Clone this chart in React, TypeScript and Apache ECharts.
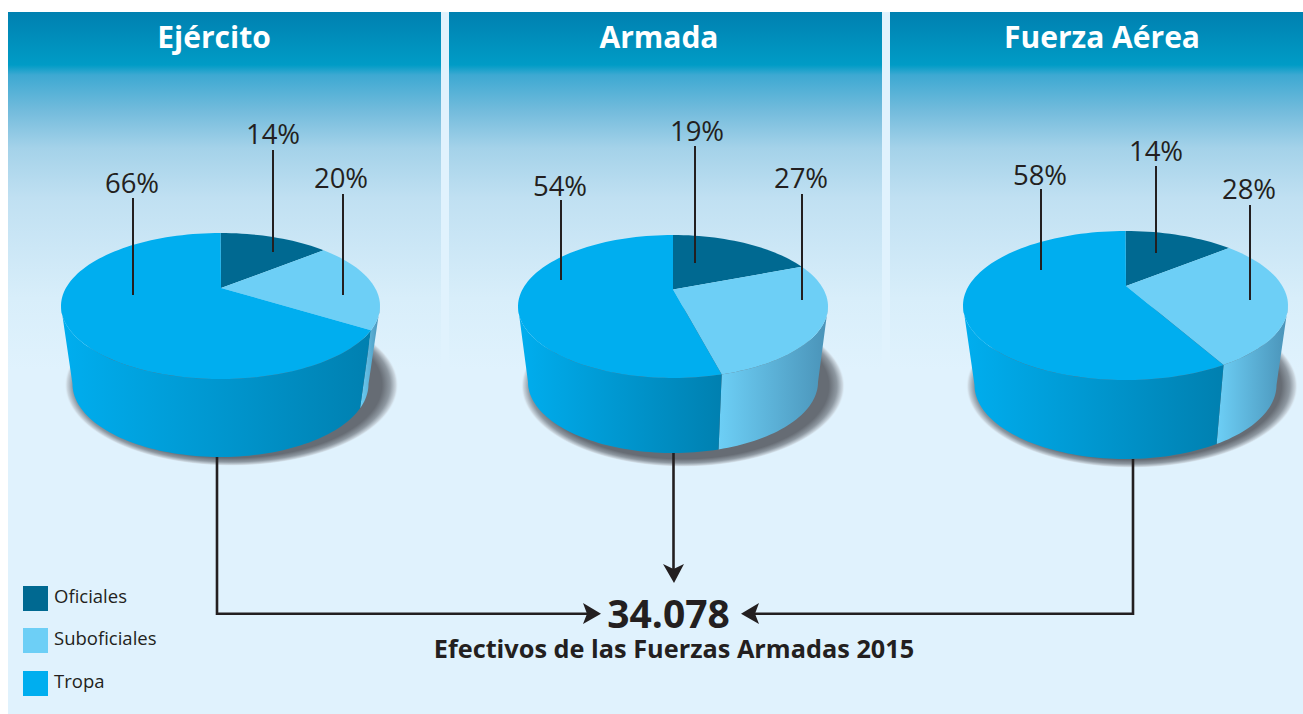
import React, { useEffect, useRef } from "react";
import * as echarts from "echarts";

// ---------- data ----------
const forces = ["Ejército", "Armada", "Fuerza Aérea"];
const categories = ["Oficiales", "Suboficiales", "Tropa"];
const oficiales = [14, 19, 14];
const suboficiales = [20, 27, 28];
const tropa = [66, 54, 58];
const totalLabel = "34.078";
const footerLabel = "Efectivos de las Fuerzas Armadas 2015";

// ---------- layout ----------
const FONT = '"Open Sans", "Noto Sans", sans-serif';
const INK = "#231f20";
const BG = "#e0f2fd";
const colors = ["#006991", "#6dcff6", "#00aeef"];
const wallEnd = ["#004a68", "#4a93b8", "#0080b0"];

const pies = [
  { cx: 220.5, rx: 159.5, cy: 306, ry: 73, ax: 221, ay: 288, rxb: 148, cyb: 384, ryb: 73, sx: 231.5, sy: 385, srx: 167, sry: 81 },
  { cx: 673, rx: 155, cy: 306.5, ry: 71.5, ax: 673, ay: 289.5, rxb: 145, cyb: 382, ryb: 71, sx: 683, sy: 386, srx: 162, sry: 81 },
  { cx: 1125.5, rx: 162.5, cy: 305.5, ry: 74.5, ax: 1126, ay: 286, rxb: 151, cyb: 385, ryb: 74, sx: 1132, sy: 386, srx: 166, sry: 82 },
];
// per force, per category: label centre and leader line
const leaders = [
  [
    { lx: 273, ly: 133, x: 273, y0: 150, y1: 252 },
    { lx: 341, ly: 177, x: 343, y0: 194, y1: 295 },
    { lx: 132, ly: 182, x: 133, y0: 198, y1: 295 },
  ],
  [
    { lx: 697, ly: 130, x: 695, y0: 146, y1: 263 },
    { lx: 801, ly: 177, x: 802, y0: 194, y1: 300 },
    { lx: 560, ly: 185, x: 561, y0: 200, y1: 280 },
  ],
  [
    { lx: 1156, ly: 150, x: 1156, y0: 166, y1: 253 },
    { lx: 1249, ly: 188, x: 1250, y0: 205, y1: 300 },
    { lx: 1040, ly: 174, x: 1041, y0: 189, y1: 270 },
  ],
];
const panels = [
  { x: 8, w: 433, tx: 214 },
  { x: 449, w: 433, tx: 659 },
  { x: 890, w: 413, tx: 1102 },
];

// ---------- geometry ----------
type Pie = (typeof pies)[number];
const D2R = Math.PI / 180;

// Ray from the off-centre apex at the pie's true angle, squashed like the ellipse, hit on the rim.
function rimParam(p: Pie, shareDeg: number): number {
  if (shareDeg <= 0) return 0;
  if (shareDeg >= 360) return 360;
  const k = (0.97 * p.ry) / p.rx;
  const dx = Math.sin(shareDeg * D2R) / p.rx;
  const dy = (-Math.cos(shareDeg * D2R) * k) / p.ry;
  const ox = (p.ax - p.cx) / p.rx;
  const oy = (p.ay - p.cy) / p.ry;
  const a = dx * dx + dy * dy;
  const b = 2 * (ox * dx + oy * dy);
  const c = ox * ox + oy * oy - 1;
  const s = (-b + Math.sqrt(b * b - 4 * a * c)) / (2 * a);
  const nx = ox + dx * s;
  const ny = oy + dy * s;
  let t = Math.atan2(nx, -ny) / D2R;
  if (t < 0) t += 360;
  return t;
}
const rim = (p: Pie, t: number) => [p.cx + p.rx * Math.sin(t * D2R), p.cy - p.ry * Math.cos(t * D2R)];
const base = (p: Pie, t: number) => [p.cx + p.rxb * Math.sin(t * D2R), p.cyb - p.ryb * Math.cos(t * D2R)];
function arc(fn: (t: number) => number[], t0: number, t1: number): number[][] {
  const n = Math.max(2, Math.ceil(Math.abs(t1 - t0) / 2));
  const out: number[][] = [];
  for (let i = 0; i <= n; i++) out.push(fn(t0 + ((t1 - t0) * i) / n));
  return out;
}

function sliceShares(f: number) {
  return [oficiales[f], suboficiales[f], tropa[f]];
}

function pieSeries(f: number) {
  const shares = sliceShares(f);
  const p = pies[f];
  const data = shares.map((v, c) => ({ name: categories[c], value: [f, c, v] }));
  return {
    type: "custom",
    coordinateSystem: "cartesian2d",
    silent: true,
    clip: false,
    z: 3,
    data,
    encode: { x: 0, y: 1 },
    renderItem: (_: any, api: any) => {
      const c = api.value(1);
      const v = api.value(2);
      const before = shares.slice(0, c).reduce((a, b) => a + b, 0);
      const total = shares.reduce((a, b) => a + b, 0);
      const t0 = rimParam(p, (before / total) * 360);
      const t1 = rimParam(p, ((before + v) / total) * 360);
      const px = (pt: number[]) => api.coord(pt);
      const children: any[] = [];
      const w0 = Math.max(t0, 90);
      const w1 = Math.min(t1, 270);
      if (w1 > w0) {
        const wall = [...arc((t) => rim(p, t), w0, w1), ...arc((t) => base(p, t), w1, w0)].map(px);
        // walls read left → right; the slice's base colour sits at its left end
        children.push({
          type: "polygon",
          shape: { points: wall },
          style: {
            fill: new echarts.graphic.LinearGradient(0, 0, 1, 0, [
              { offset: 0, color: colors[c] },
              { offset: 1, color: wallEnd[c] },
            ]),
          },
        });
      }
      const top = [[p.ax, p.ay], ...arc((t) => rim(p, t), t0, t1)].map(px);
      children.push({ type: "polygon", shape: { points: top }, style: { fill: colors[c] } });
      return { type: "group", children };
    },
  };
}

function labelSeries(f: number) {
  const shares = sliceShares(f);
  const data = shares.map((v, c) => ({ name: categories[c], value: [leaders[f][c].lx, leaders[f][c].ly, v, c] }));
  return {
    type: "custom",
    coordinateSystem: "cartesian2d",
    silent: true,
    clip: false,
    z: 5,
    data,
    encode: { x: 0, y: 1 },
    renderItem: (_: any, api: any) => {
      const c = api.value(3);
      const l = leaders[f][c];
      const [lx, ly] = api.coord([l.lx, l.ly]);
      const [x, y0] = api.coord([l.x, l.y0]);
      const [, y1] = api.coord([l.x, l.y1]);
      return {
        type: "group",
        children: [
          { type: "line", shape: { x1: x, y1: y0, x2: x, y2: y1 }, style: { stroke: INK, lineWidth: 2 } },
          {
            type: "text",
            style: {
              text: `${api.value(2)}%`,
              x: lx,
              y: ly,
              fill: INK,
              font: `400 27.5px ${FONT}`,
              textAlign: "center",
              textVerticalAlign: "middle",
            },
          },
        ],
      };
    },
  };
}

const panelFill = () =>
  new echarts.graphic.LinearGradient(0, 0, 0, 1, [
    { offset: 0, color: "#0080b0" },
    { offset: 0.148, color: "#009cc6" },
    { offset: 0.176, color: "#3da9d2" },
    { offset: 0.274, color: "#72bbdc" },
    { offset: 0.38, color: "#a4d2e9" },
    { offset: 0.52, color: "#c0e0f2" },
    { offset: 0.8, color: "#d8eefa" },
    { offset: 1, color: BG },
  ]);

const shadowFill = () =>
  new echarts.graphic.RadialGradient(0.5, 0.5, 0.5, [
    { offset: 0, color: "#666c74" },
    { offset: 0.9, color: "#666c74" },
    { offset: 0.95, color: "#8e98a1" },
    { offset: 0.985, color: "#cdd9e2" },
    { offset: 1, color: "rgba(224,242,253,0)" },
  ]);

const arrow = (points: number[][]) => ({ type: "polygon", z: 2, shape: { points }, style: { fill: INK } });
const conn = (points: number[][]) => ({
  type: "polyline",
  z: 2,
  shape: { points },
  style: { stroke: INK, lineWidth: 2.6, fill: "none" },
});

function graphics() {
  const g: any[] = [
    { type: "rect", z: 0, shape: { x: 8, y: 12, width: 1295, height: 702 }, style: { fill: BG } },
  ];
  panels.forEach((p, i) => {
    g.push({ type: "rect", z: 0, shape: { x: p.x, y: 12, width: p.w, height: 358 }, style: { fill: panelFill() } });
    g.push({
      type: "text",
      z: 1,
      style: {
        text: forces[i],
        x: p.tx,
        y: 36,
        fill: "#ffffff",
        font: `700 30px ${FONT}`,
        textAlign: "center",
        textVerticalAlign: "middle",
      },
    });
  });
  pies.forEach((p) => {
    g.push({
      type: "ellipse",
      z: 1,
      shape: { cx: p.sx, cy: p.sy, rx: p.srx, ry: p.sry },
      style: { fill: shadowFill() },
    });
  });
  g.push(conn([[217, 457], [217, 613.7], [590, 613.7]]));
  g.push(arrow([[601, 613.7], [583, 603], [587, 613.7], [583, 624]]));
  g.push(conn([[673.5, 453], [673.5, 572]]));
  g.push(arrow([[674, 583], [663, 564], [673.5, 569], [684, 564]]));
  g.push(conn([[1133, 459], [1133, 613.7], [752, 613.7]]));
  g.push(arrow([[741, 613.7], [759, 603], [755, 613.7], [759, 624]]));
  g.push({
    type: "text",
    z: 2,
    style: { text: totalLabel, x: 668.5, y: 612, fill: INK, font: `700 39px ${FONT}`, textAlign: "center", textVerticalAlign: "middle" },
  });
  g.push({
    type: "text",
    z: 2,
    style: { text: footerLabel, x: 674, y: 648, fill: INK, font: `700 25.3px ${FONT}`, textAlign: "center", textVerticalAlign: "middle" },
  });
  const ly = [586, 628, 671];
  categories.forEach((c, i) => {
    g.push({ type: "rect", z: 2, shape: { x: 23, y: ly[i], width: 25, height: 25 }, style: { fill: colors[i] } });
    g.push({
      type: "text",
      z: 2,
      style: { text: c, x: 54, y: ly[i] + 9.5, fill: INK, font: `400 18.5px ${FONT}`, textAlign: "left", textVerticalAlign: "middle" },
    });
  });
  return g;
}

export default function App() {
  const ref = useRef<HTMLDivElement>(null);
  useEffect(() => {
    const chart = echarts.init(ref.current!, undefined, { renderer: "svg" });
    chart.setOption({
      animation: false,
      backgroundColor: "#ffffff",
      grid: { left: 0, right: 0, top: 0, bottom: 0 },
      xAxis: { type: "value", min: 0, max: 1303, show: false },
      yAxis: { type: "value", min: 0, max: 714, inverse: true, show: false },
      graphic: { elements: graphics() },
      series: [0, 1, 2].flatMap((f) => [pieSeries(f), labelSeries(f)]),
    });
    return () => chart.dispose();
  }, []);
  return <div ref={ref} style={{ position: "fixed", left: 0, top: 0, width: 1303, height: 714 }} />;
}
